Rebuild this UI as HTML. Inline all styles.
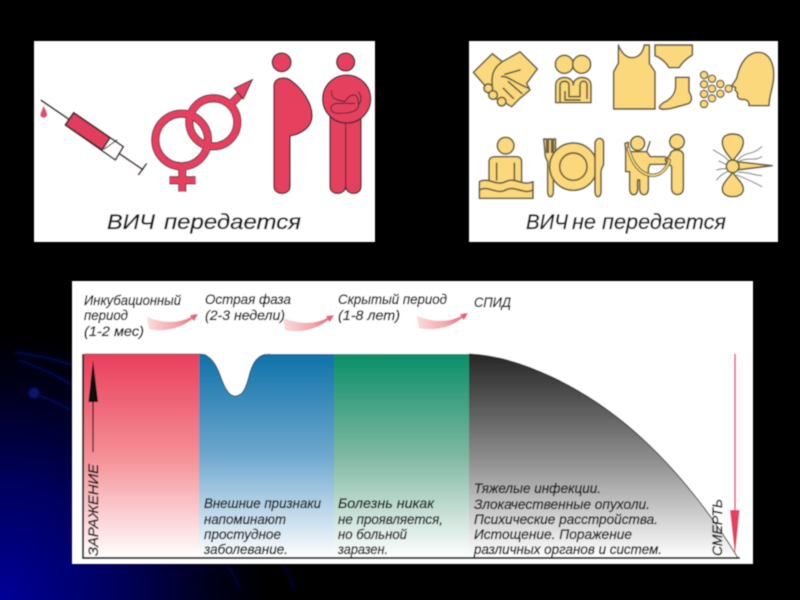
<!DOCTYPE html>
<html lang="ru"><head><meta charset="utf-8"><title>ВИЧ</title>
<style>
html,body{margin:0;padding:0;width:800px;height:600px;overflow:hidden;background:#000}
svg{display:block;position:absolute;left:0;top:0}
text{font-family:"Liberation Sans",sans-serif;font-style:italic;fill:#1c1c1c;stroke:#1c1c1c;stroke-width:.35}
</style></head><body>
<svg width="800" height="600" viewBox="0 0 800 600" xmlns="http://www.w3.org/2000/svg">
<defs>
<radialGradient id="bg" gradientUnits="userSpaceOnUse" cx="0" cy="600" r="270"><stop offset="0" stop-color="#000098"/><stop offset=".45" stop-color="#00005a"/><stop offset=".8" stop-color="#000018"/><stop offset="1" stop-color="#000"/></radialGradient>
<linearGradient id="r" x1="0" y1="0" x2="0" y2="1"><stop offset="0" stop-color="#e93f5c"/><stop offset=".5" stop-color="#f58f96"/><stop offset="1" stop-color="#fff"/></linearGradient>
<linearGradient id="b" x1="0" y1="0" x2="0" y2="1"><stop offset="0" stop-color="#0f72a8"/><stop offset=".5" stop-color="#6fa8cf"/><stop offset="1" stop-color="#fff"/></linearGradient>
<linearGradient id="g" x1="0" y1="0" x2="0" y2="1"><stop offset="0" stop-color="#0a8f68"/><stop offset=".5" stop-color="#7fb8a2"/><stop offset="1" stop-color="#fff"/></linearGradient>
<linearGradient id="k" gradientUnits="userSpaceOnUse" x1="0" y1="354" x2="0" y2="558"><stop offset="0" stop-color="#262626"/><stop offset=".5" stop-color="#8a8a8a"/><stop offset="1" stop-color="#fff"/></linearGradient>
<linearGradient id="sw" x1="0" y1="0" x2="1" y2="0"><stop offset="0" stop-color="#fbdcdc"/><stop offset=".6" stop-color="#f3a4aa"/><stop offset="1" stop-color="#e8506a"/></linearGradient>
<filter id="soft" x="-2%" y="-2%" width="104%" height="104%"><feGaussianBlur stdDeviation=".5"/></filter>
<filter id="soft2"><feGaussianBlur stdDeviation="1.500"/></filter>
<path id="swoosh" d="M0 1C18 8 32 7 44 1L43 -1L51 -2L47 5L45 3C32 14 14 16 2 13Z" fill="url(#sw)"/>
</defs>
<rect width="800" height="600" fill="#000"/>
<rect width="800" height="600" fill="url(#bg)"/>
<g filter="url(#soft2)" stroke="#04105c" fill="none" stroke-width="2.500">
<path d="M15 352Q45 356 72 365"/><path d="M18 360Q48 370 72 385"/><path d="M40 396Q58 402 72 411"/>
<circle cx="34" cy="393" r="5.500" fill="#0a1470" stroke="none"/>
<path d="M228 566Q236 578 240 590M284 566Q290 578 294 590" stroke="#000838"/>
</g>
<g filter="url(#soft)">
<rect x="34" y="41" width="341" height="201" fill="#fff"/>
<rect x="469" y="41" width="309" height="201" fill="#fff"/>
<rect x="72" y="281" width="681" height="283" fill="#fff"/>

<!-- left panel -->
<g transform="translate(30 35) scale(.33333)" stroke-linejoin="round">
<g stroke="#3a2a2a" stroke-width="5" fill="none">
<path d="M32 195L340 405M325 420L350 385"/>
<path d="M131 233L280 335L256 375L106 270Z" fill="#fff"/>
<path d="M131 233L240 308L216 345L106 270Z" fill="#e23c5c"/>
<path d="M222 343L262 314" stroke-width="3"/>
</g>
<path d="M41 212C48 228 53 235 51 242A11 11 0 0 1 31 242C30 235 36 226 41 212Z" fill="#e54e6c"/>
<g fill="none" stroke="#3a2a30" stroke-width="25">
<circle cx="550" cy="262" r="72"/>
<path d="M600 210L640 170"/>
<circle cx="455" cy="315" r="79"/>
<path d="M457 400V470M418 436H497"/>
</g>
<g fill="none" stroke="#e63f60" stroke-width="20">
<circle cx="550" cy="262" r="72"/>
<path d="M600 210L640 170"/>
</g>
<path d="M668 133L612 160L640 192Z" fill="#e63f60" stroke="#3a2a30" stroke-width="3"/>
<g fill="none" stroke="#e63f60" stroke-width="20">
<circle cx="455" cy="315" r="79"/>
<path d="M457 400V470M418 436H497"/>
</g>
<g fill="#e63f5e" stroke="#3a2a30" stroke-width="4">
<circle cx="755" cy="82" r="28"/>
<path d="M732 150C735 128 765 122 785 138C815 160 848 205 846 245C844 280 810 298 780 303V455C780 482 732 482 732 455Z"/>
<circle cx="947" cy="81" r="27"/>
<path d="M900 240V455C900 482 945 482 947 455C949 482 993 482 993 455V240Z"/>
<circle cx="950" cy="192" r="72"/>
</g>
<path d="M947 265V460" stroke="#3a2a30" stroke-width="3"/>
<path d="M905 165C900 195 925 195 945 200C960 175 985 170 985 205C990 230 960 235 925 235C895 235 895 205 925 205H975M985 170C1000 190 990 205 985 210" fill="none" stroke="#3a2a30" stroke-width="3"/>
</g>
<text x="107" y="229" font-size="21" textLength="48" lengthAdjust="spacingAndGlyphs">ВИЧ</text>
<text x="164" y="229" font-size="21" textLength="137" lengthAdjust="spacingAndGlyphs">передается</text>

<!-- right panel -->
<g transform="translate(465 35) scale(.33333)" fill="#fbd87b" stroke="#6b6040" stroke-width="5" stroke-linejoin="round" stroke-linecap="round">
<path d="M25 112L82 56L112 80L165 50L217 102L185 145L195 165L165 190L140 215L105 195L85 190L60 165L58 150Z"/>
<path d="M112 80C90 95 78 115 82 150M120 118L165 105M110 125C125 120 150 145 192 160M130 140L170 175M115 160L145 190" fill="none"/>
<circle cx="70" cy="160" r="13"/><circle cx="84" cy="180" r="13"/><circle cx="110" cy="200" r="13"/>
<circle cx="298" cy="88" r="27"/><circle cx="350" cy="88" r="27"/>
<path d="M272 203V150C272 120 325 120 325 150C325 120 378 120 378 150V203Z"/>
<path d="M285 203V150C285 135 312 135 312 150V185H345V150C345 135 366 135 366 150V190M300 170V195H345" fill="none"/>
<path d="M460 30C470 55 485 68 500 68C520 68 533 55 538 30H553V85L570 110V222H446V110L460 85Z"/>
<path d="M570 30H682V60C665 70 650 85 642 98H612C605 85 590 70 570 62Z"/>
<path d="M632 127H672V170C682 185 682 200 670 206C640 214 610 226 588 222C575 218 590 205 605 198C625 185 632 170 632 150Z"/>
<g stroke-width="4"><circle cx="717" cy="120" r="11"/><circle cx="741" cy="131" r="11"/><circle cx="717" cy="148" r="11"/><circle cx="741" cy="161" r="11"/><circle cx="766" cy="147" r="11"/><circle cx="791" cy="161" r="11"/><circle cx="766" cy="176" r="11"/><circle cx="717" cy="177" r="11"/><circle cx="741" cy="190" r="11"/><circle cx="717" cy="207" r="11"/></g>
<path d="M815 130C825 80 850 52 880 52C915 52 928 90 926 125C925 160 912 180 912 212L852 212C852 200 848 195 835 193C820 195 815 185 818 175L810 165L812 158L800 152Z"/>
<circle cx="122" cy="332" r="25"/>
<path d="M72 380C72 370 80 365 90 365H155C165 365 170 372 170 380V450H72Z"/>
<path d="M95 385V435M148 385V435" fill="none"/>
<path d="M43 440C70 425 95 455 122 440C150 425 175 455 204 440V490H43Z"/>
<path d="M43 465C70 450 95 480 122 465C150 450 175 480 204 465" fill="none"/>
<path d="M236 312L240 355C240 370 246 375 248 380V470C248 490 265 490 265 470V380C270 372 272 362 272 312L265 312V352H260V312H250V352H245V312Z"/>
<circle cx="325" cy="395" r="71"/>
<circle cx="325" cy="395" r="41"/>
<path d="M390 325C392 305 416 305 416 325V385C416 395 408 400 408 410V470C408 490 390 490 390 470Z"/>
<circle cx="518" cy="325" r="21"/>
<path d="M490 350H545L556 365H600L612 375L600 388H555L550 400V462C550 485 524 485 524 462V435H518V462C518 485 494 485 494 462V410H482V345L480 325L490 322Z"/>
<circle cx="636" cy="320" r="22"/>
<path d="M615 360C615 340 655 340 655 360V460C655 485 620 485 620 460V395L600 375Z"/>
<path d="M490 340C510 420 560 430 585 415C605 400 612 385 612 375" fill="none" stroke-width="11"/>
<path d="M490 340C510 420 560 430 585 415C605 400 612 385 612 375" fill="none" stroke="#fbd87b" stroke-width="5"/>
<path d="M555 320L545 350" fill="none"/>
<path d="M745 345C770 360 785 365 795 385M762 378L790 392M755 405C770 400 780 400 790 402M755 435C770 415 780 415 792 408M815 380C840 345 860 365 890 335M825 378C850 365 870 380 890 365M820 412C850 410 860 420 890 422M815 420C840 430 865 440 890 455" fill="none" stroke="#888" stroke-width="3.500"/>
<path d="M803 378C790 360 772 345 772 320C772 305 785 297 803 297C822 297 835 305 835 320C835 345 815 360 803 378Z"/>
<path d="M803 412C790 430 772 445 772 462C772 477 785 485 803 485C822 485 835 477 835 462C835 445 815 430 803 412Z"/>
<path d="M815 380L922 392L815 405Z"/>
<circle cx="803" cy="394" r="19"/>
</g>
<text x="526" y="229" font-size="21" textLength="42" lengthAdjust="spacingAndGlyphs">ВИЧ</text>
<text x="572" y="229" font-size="21" textLength="154" lengthAdjust="spacingAndGlyphs">не передается</text>

<!-- chart -->
<rect x="84" y="354" width="115" height="204" fill="url(#r)"/>
<rect x="199" y="354" width="135.500" height="204" fill="url(#b)"/>
<rect x="334" y="354" width="135" height="204" fill="url(#g)"/>
<path d="M199 352C208 354 214 360 219 372C224 386 228 396 235 396C243 396 246 388 250 372C254 360 258 354 270 353V352Z" fill="#fff"/>
<path d="M199 354C208 354 214 360 219 372C224 386 228 396 235 396C243 396 246 388 250 372C254 360 258 355 270 354" fill="none" stroke="#2c4a5a" stroke-width=".8"/>
<path d="M469 354C520 356 585 388 635 432C680 472 715 520 738 558H469Z" fill="url(#k)"/>
<path d="M469 354C520 356 585 388 635 432C680 472 715 520 738 558" fill="none" stroke="#333" stroke-width="1"/>
<path d="M83 354V558H740" fill="none" stroke="#222" stroke-width="2"/>
<path d="M84 354H199" stroke="#555" stroke-width=".8"/>
<path d="M93 452V400" stroke="#111" stroke-width="1.200"/>
<path d="M93 360L88.500 402H98Z" fill="#111"/>
<path d="M735 354V510" stroke="#e8506a" stroke-width="1.500"/>
<path d="M730 510H739.500L735 555Z" fill="#e63f60"/>
<use href="#swoosh" x="147" y="316"/>
<use href="#swoosh" x="283" y="317"/>
<use href="#swoosh" x="417" y="315"/>
<g font-size="14">
<text x="84" y="305" textLength="97" lengthAdjust="spacingAndGlyphs">Инкубационный</text>
<text x="84" y="320" textLength="44" lengthAdjust="spacingAndGlyphs">период</text>
<text x="84" y="336" textLength="60" lengthAdjust="spacingAndGlyphs">(1-2 мес)</text>
<text x="205" y="304" textLength="86" lengthAdjust="spacingAndGlyphs">Острая фаза</text>
<text x="205" y="320" textLength="80" lengthAdjust="spacingAndGlyphs">(2-3 недели)</text>
<text x="338" y="304" textLength="109" lengthAdjust="spacingAndGlyphs">Скрытый период</text>
<text x="338" y="320" textLength="62" lengthAdjust="spacingAndGlyphs">(1-8 лет)</text>
<text x="474" y="307" textLength="37" lengthAdjust="spacingAndGlyphs">СПИД</text>
<text x="204" y="508" textLength="117" lengthAdjust="spacingAndGlyphs">Внешние признаки</text>
<text x="204" y="524" textLength="82" lengthAdjust="spacingAndGlyphs">напоминают</text>
<text x="204" y="539" textLength="77" lengthAdjust="spacingAndGlyphs">простудное</text>
<text x="204" y="554" textLength="84" lengthAdjust="spacingAndGlyphs">заболевание.</text>
<text x="338" y="508" textLength="96" lengthAdjust="spacingAndGlyphs">Болезнь никак</text>
<text x="338" y="524" textLength="105" lengthAdjust="spacingAndGlyphs">не проявляется,</text>
<text x="338" y="539" textLength="69" lengthAdjust="spacingAndGlyphs">но больной</text>
<text x="338" y="554" textLength="50" lengthAdjust="spacingAndGlyphs">заразен.</text>
<text x="474" y="493" textLength="127" lengthAdjust="spacingAndGlyphs">Тяжелые инфекции.</text>
<text x="474" y="509" textLength="176" lengthAdjust="spacingAndGlyphs">Злокачественные опухоли.</text>
<text x="474" y="524" textLength="184" lengthAdjust="spacingAndGlyphs">Психические расстройства.</text>
<text x="474" y="539" textLength="158" lengthAdjust="spacingAndGlyphs">Истощение. Поражение</text>
<text x="474" y="554" textLength="188" lengthAdjust="spacingAndGlyphs">различных органов и систем.</text>
<text transform="translate(98 556) rotate(-90)" textLength="92" lengthAdjust="spacingAndGlyphs">ЗАРАЖЕНИЕ</text>
<text transform="translate(722 556) rotate(-90)" textLength="57" lengthAdjust="spacingAndGlyphs">СМЕРТЬ</text>
</g>
</g>
</svg>
</body></html>
